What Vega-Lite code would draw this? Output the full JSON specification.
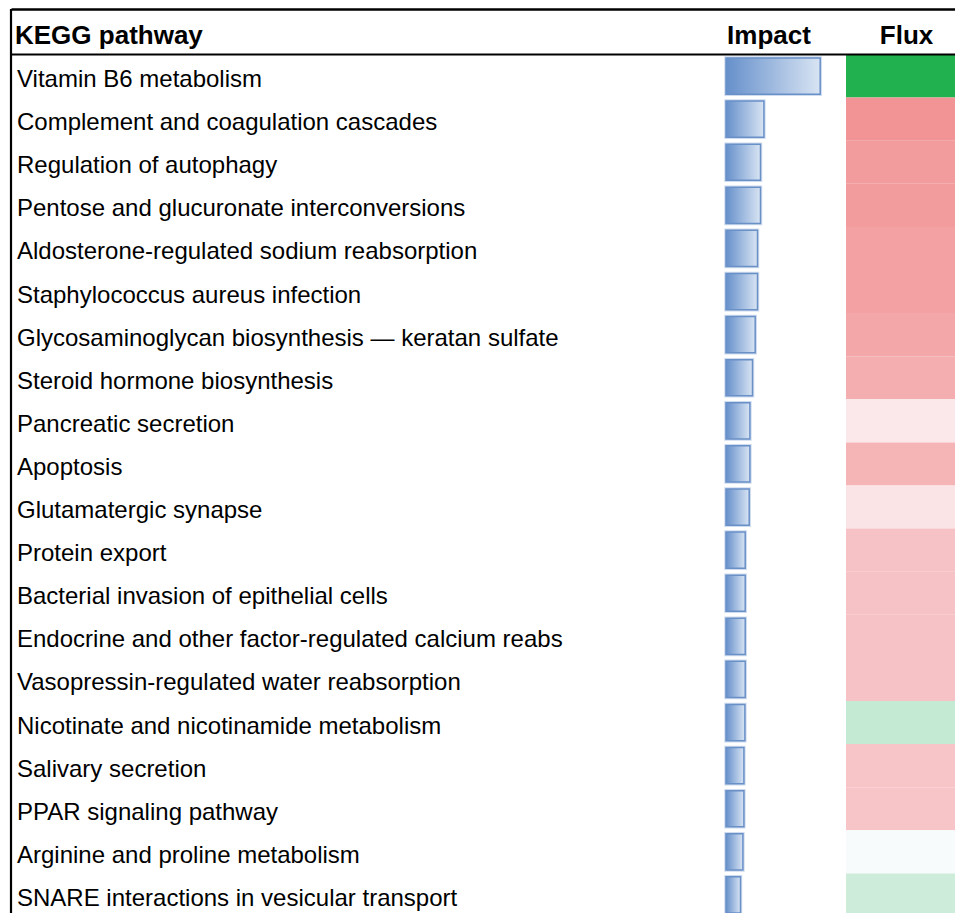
{
  "$schema": "https://vega.github.io/schema/vega-lite/v6.json",
  "width": 944,
  "height": 904,
  "autosize": {"type": "none"},
  "padding": {"left": 11, "top": 9, "right": 0, "bottom": 0},
  "background": "white",
  "config": {"view": {"stroke": null}, "font": "Liberation Sans"},
  "datasets": {
    "rows": [
      {"pathway": "Vitamin B6 metabolism", "impact": 0.942, "flux": -1},
      {"pathway": "Complement and coagulation cascades", "impact": 0.379, "flux": 0.86},
      {"pathway": "Regulation of autophagy", "impact": 0.345, "flux": 0.79},
      {"pathway": "Pentose and glucuronate interconversions", "impact": 0.345, "flux": 0.79},
      {"pathway": "Aldosterone-regulated sodium reabsorption", "impact": 0.315, "flux": 0.745},
      {"pathway": "Staphylococcus aureus infection", "impact": 0.315, "flux": 0.745},
      {"pathway": "Glycosaminoglycan biosynthesis — keratan sulfate", "impact": 0.292, "flux": 0.7},
      {"pathway": "Steroid hormone biosynthesis", "impact": 0.265, "flux": 0.64},
      {"pathway": "Pancreatic secretion", "impact": 0.239, "flux": 0.165},
      {"pathway": "Apoptosis", "impact": 0.239, "flux": 0.59},
      {"pathway": "Glutamatergic synapse", "impact": 0.232, "flux": 0.2},
      {"pathway": "Protein export", "impact": 0.192, "flux": 0.475},
      {"pathway": "Bacterial invasion of epithelial cells", "impact": 0.192, "flux": 0.475},
      {"pathway": "Endocrine and other factor-regulated calcium reabs", "impact": 0.192, "flux": 0.475},
      {"pathway": "Vasopressin-regulated water reabsorption", "impact": 0.192, "flux": 0.475},
      {"pathway": "Nicotinate and nicotinamide metabolism", "impact": 0.189, "flux": -0.25},
      {"pathway": "Salivary secretion", "impact": 0.179, "flux": 0.45},
      {"pathway": "PPAR signaling pathway", "impact": 0.179, "flux": 0.45},
      {"pathway": "Arginine and proline metabolism", "impact": 0.169, "flux": -0.02},
      {"pathway": "SNARE interactions in vesicular transport", "impact": 0.145, "flux": -0.21}
    ]
  },
  "data": {"name": "rows"},
  "layer": [
    {
      "mark": {"type": "rect", "clip": true},
      "encoding": {
        "x": {"datum": 1.2, "type": "quantitative"},
        "x2": {"datum": 2.29},
        "y": {
          "field": "pathway", "type": "nominal", "sort": null,
          "scale": {
            "type": "band",
            "domain": ["Vitamin B6 metabolism", "Complement and coagulation cascades", "Regulation of autophagy", "Pentose and glucuronate interconversions", "Aldosterone-regulated sodium reabsorption", "Staphylococcus aureus infection", "Glycosaminoglycan biosynthesis — keratan sulfate", "Steroid hormone biosynthesis", "Pancreatic secretion", "Apoptosis", "Glutamatergic synapse", "Protein export", "Bacterial invasion of epithelial cells", "Endocrine and other factor-regulated calcium reabs", "Vasopressin-regulated water reabsorption", "Nicotinate and nicotinamide metabolism", "Salivary secretion", "PPAR signaling pathway", "Arginine and proline metabolism", "SNARE interactions in vesicular transport"],
            "range": [45.5, 907.5],
            "paddingInner": 0,
            "paddingOuter": 0
          },
          "axis": null
        },
        "color": {
          "field": "flux", "type": "quantitative",
          "scale": {"type": "linear", "domain": [-1, 0, 1], "range": ["#21b24f", "#fcfcff", "#f08284"], "interpolate": "rgb"},
          "legend": null
        }
      }
    },
    {
      "mark": {"type": "bar", "height": {"band": 0.84}, "fill": null, "stroke": "#cfdcef", "strokeWidth": 3.5, "clip": true},
      "encoding": {
        "x": {
          "field": "impact", "type": "quantitative",
          "scale": {"domain": [-7.15, 2.29], "nice": false, "zero": false},
          "axis": {"orient": "top", "labels": false, "ticks": false, "grid": false, "domain": true, "domainColor": "#000000", "domainWidth": 2.5, "title": null}
        },
        "y": {"field": "pathway", "type": "nominal", "sort": null}
      }
    },
    {
      "mark": {
        "type": "bar", "height": {"band": 0.84}, "clip": true,
        "fill": {"gradient": "linear", "x1": 0, "y1": 0, "x2": 1, "y2": 0, "stops": [{"offset": 0, "color": "#6690cb"}, {"offset": 1, "color": "#d8e4f3"}]},
        "stroke": "#6a90c8", "strokeWidth": 1.5
      },
      "encoding": {
        "x": {"field": "impact", "type": "quantitative"},
        "y": {"field": "pathway", "type": "nominal", "sort": null}
      }
    },
    {
      "mark": {"type": "text", "align": "left", "baseline": "middle", "fontSize": 24, "color": "#000000", "dy": 4, "font": "Liberation Sans"},
      "encoding": {
        "x": {"datum": -7.09, "type": "quantitative"},
        "y": {"field": "pathway", "type": "nominal", "sort": null},
        "text": {"field": "pathway"}
      }
    },
    {
      "data": {"values": [{}]},
      "mark": {"type": "rule", "color": "#000000", "strokeWidth": 2},
      "encoding": {"y": {"datum": "Vitamin B6 metabolism", "type": "nominal", "bandPosition": 0}}
    },
    {
      "data": {"values": [{}]},
      "mark": {"type": "rule", "color": "#000000", "strokeWidth": 2.2},
      "encoding": {"x": {"datum": -7.15, "type": "quantitative"}}
    },
    {
      "data": {"values": [{}]},
      "mark": {"type": "text", "text": "KEGG pathway", "align": "left", "baseline": "alphabetic", "fontSize": 26, "fontWeight": "bold", "color": "#000000", "dy": -11, "font": "Liberation Sans"},
      "encoding": {
        "x": {"datum": -7.11, "type": "quantitative"},
        "y": {"datum": "Vitamin B6 metabolism", "type": "nominal", "bandPosition": 0}
      }
    },
    {
      "data": {"values": [{}]},
      "mark": {"type": "text", "text": "Impact", "align": "center", "baseline": "alphabetic", "fontSize": 26, "fontWeight": "bold", "color": "#000000", "dy": -11, "font": "Liberation Sans"},
      "encoding": {
        "x": {"datum": 0.43, "type": "quantitative"},
        "y": {"datum": "Vitamin B6 metabolism", "type": "nominal", "bandPosition": 0}
      }
    },
    {
      "data": {"values": [{}]},
      "mark": {"type": "text", "text": "Flux", "align": "center", "baseline": "alphabetic", "fontSize": 26, "fontWeight": "bold", "color": "#000000", "dy": -11, "font": "Liberation Sans"},
      "encoding": {
        "x": {"datum": 1.805, "type": "quantitative"},
        "y": {"datum": "Vitamin B6 metabolism", "type": "nominal", "bandPosition": 0}
      }
    }
  ]
}
